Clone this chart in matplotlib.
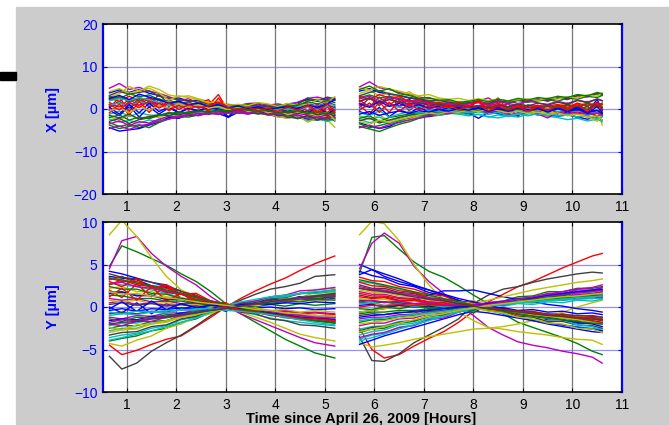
import matplotlib
matplotlib.use("Agg")
import matplotlib.pyplot as plt
from matplotlib.patches import Rectangle

plt.rcParams['font.family'] = ['Liberation Sans', 'DejaVu Sans']

# time knots (hours since April 26, 2009)
t_x1 = [0.65, 0.85, 1.05, 1.25, 1.45, 1.65, 1.85, 2.05, 2.25, 2.45, 2.65, 2.85,
        3.05, 3.25, 3.45, 3.65, 3.85, 4.05, 4.25, 4.45, 4.65, 4.85, 5.05, 5.2]
t_x2 = [5.7, 5.9, 6.1, 6.3, 6.5, 6.7, 6.9, 7.1, 7.3, 7.5, 7.7, 7.9, 8.1,
        8.3, 8.5, 8.7, 8.9, 9.1, 9.3, 9.5, 9.7, 9.9, 10.1, 10.3, 10.5, 10.6]
t_y1 = [0.65, 0.9, 1.2, 1.5, 1.8, 2.1, 2.4, 2.7, 3.0, 3.3, 3.6, 3.9, 4.2, 4.5, 4.8, 5.2]
t_y2 = [5.7, 5.95, 6.2, 6.5, 6.8, 7.1, 7.4, 7.7, 8.0, 8.3, 8.6, 8.9, 9.2, 9.5, 9.8,
        10.1, 10.4, 10.6]

# X offsets [um], first run
x_run1 = [
    [3.8, 4.5, 3.9, 4.6, 3.7, 3.2, 2.4, 2.6, 1.9, 2.1, 1.2, 1.6, 0.8, 0.9, 1.1, 0.6, 1.0, 0.7, 1.2, 1.5, 2.2, 1.8, 2.4, 2.1],
    [-3.2, -4.1, -3.6, -4.4, -3.5, -2.6, -1.9, -1.5, -1.6, -1.0, -1.2, -0.6, -0.9, -0.4, -0.8, -0.5, -1.1, -1.4, -1.0, -1.6, -1.9, -2.3, -1.8, -2.0],
    [1.5, 0.4, 2.3, 0.8, 2.6, 0.5, 1.8, 0.3, 1.4, 0.2, 0.9, 3.4, -0.4, 0.5, 0.2, -0.3, 0.4, -0.6, 0.1, 0.9, -0.5, 1.2, -0.8, 0.6],
    [-1.2, -0.5, -1.8, -0.9, -1.4, -1.6, -0.8, -1.1, -0.6, -0.9, -0.3, -0.7, 0.2, -0.4, -0.1, 0.3, -0.5, -0.2, -0.9, -0.6, -1.4, -1.1, -1.6, -2.2],
    [4.9, 6.0, 4.6, 5.1, 4.2, 3.7, 2.9, 2.0, 2.4, 1.3, 1.6, 0.9, 1.1, 0.8, 1.3, 1.4, 0.9, 1.2, 0.8, 1.6, 2.5, 2.8, 2.2, 2.6],
    [2.8, 3.6, 5.3, 4.2, 5.4, 4.6, 3.3, 2.9, 3.1, 2.4, 1.8, 1.2, 0.5, 0.7, 0.3, 0.9, 0.2, -0.4, 0.3, -0.8, -1.5, -1.2, -2.6, -4.3],
    [0.6, 1.8, 0.2, 2.2, 0.9, 3.4, 1.2, 1.9, 0.4, 1.1, -0.2, 0.5, -1.8, 0.6, -0.3, 0.4, -0.9, 0.2, -0.5, 0.3, 1.4, 0.2, 1.0, 0.3],
    [-4.4, -5.2, -4.9, -4.6, -3.8, -3.1, -2.0, -2.2, -1.4, -1.5, -0.9, -1.1, -1.9, -0.8, -1.2, -0.7, -1.3, -1.8, -2.1, -1.7, -2.4, -2.6, -2.0, -2.8],
    [2.2, 2.9, 1.7, 2.5, 1.9, 2.4, 1.6, 1.2, 1.5, 0.9, 0.6, 1.0, 0.4, 0.7, 1.2, 0.9, 0.5, 0.9, 1.1, 0.6, 1.9, 2.3, 1.7, 2.0],
    [0.2, 2.8, -0.6, 3.1, 0.4, 2.2, -0.3, 1.6, 0.2, 1.3, 2.2, -0.4, 0.6, 0.1, -0.3, 0.5, -0.2, -0.7, 0.3, -0.9, 0.8, -1.6, 0.6, -0.8],
    [-2.4, -3.1, -2.7, -3.3, -2.6, -2.9, -1.6, -1.9, -1.3, -1.1, -0.7, -1.0, -0.6, -0.9, -0.5, -1.1, -0.8, -1.3, -1.6, -1.9, -2.7, -2.4, -2.9, -2.5],
    [1.1, 0.6, 1.4, 0.9, 1.7, 1.2, 0.8, 1.3, 0.5, 0.8, 0.4, 0.2, 0.6, 0.1, 0.5, 0.8, 0.3, 0.6, 0.2, 0.9, 1.3, 0.7, 1.6, 1.0],
    [-1.9, -2.6, -1.4, -2.3, -1.6, -2.0, -1.1, -1.5, -0.8, -1.2, -0.5, -0.9, -0.2, -0.7, -0.3, -0.9, -1.2, -1.8, -2.2, -1.5, -3.1, -2.2, -1.8, -2.4],
    [3.2, 4.1, 3.5, 3.9, 4.3, 3.0, 2.6, 2.2, 1.8, 1.9, 1.1, 1.4, 0.7, 1.0, 0.6, 1.2, 0.4, 0.8, 0.3, 1.1, 2.6, 1.9, 2.8, 2.4],
    [-0.3, -1.6, 0.8, -1.9, 0.5, -1.2, 0.3, -0.9, 0.1, -0.6, 0.4, -0.2, -2.0, 0.3, -0.4, 0.2, -0.6, 0.1, -0.8, 0.4, -1.2, 0.6, -1.5, 0.2],
    [-3.8, -4.6, -4.1, -3.7, -4.4, -3.2, -2.3, -1.8, -1.9, -1.4, -1.0, -1.2, -0.8, -1.0, -0.6, -1.0, -1.4, -1.2, -1.9, -2.2, -1.6, -2.1, -2.6, -2.3],
    [2.6, 1.8, 3.0, 1.9, 2.7, 1.4, 2.2, 1.0, 1.6, 0.6, 1.4, 0.4, 0.9, 0.2, 0.4, -0.1, 0.3, -0.4, 0.2, -0.6, 0.5, -0.9, 0.4, -1.2],
    [0.9, 1.4, 0.6, 1.8, 1.1, 0.7, 0.9, 0.4, 0.8, 0.3, 0.6, 0.1, 0.4, -0.2, 0.3, 0.0, -0.3, 0.2, -0.1, 0.5, 0.9, 0.6, 1.2, 0.8],
    [-4.6, -4.0, -4.8, -3.9, -3.6, -2.9, -2.4, -1.7, -1.2, -1.6, -0.9, -1.3, -0.5, -0.9, -1.1, -0.6, -1.4, -1.0, -1.7, -1.4, -2.2, -1.9, -1.4, -2.0],
    [4.1, 4.8, 3.7, 4.4, 4.9, 3.8, 2.1, 3.1, 2.7, 2.2, 1.4, 1.9, 0.9, 1.1, 0.8, 1.5, 1.2, 0.6, 1.3, 0.9, 1.1, 2.2, 1.6, 2.9],
    [-2.9, -2.2, -3.4, -2.5, -2.1, -1.5, -0.9, -1.4, -0.7, -0.3, -0.8, -0.4, -0.9, -0.3, -0.7, -1.2, -0.6, -1.6, -1.2, -2.3, -1.5, -2.6, -2.0, -1.4],
    [0.4, -1.2, 1.1, -0.9, 1.4, -0.6, 0.5, -0.8, 0.2, -0.4, 0.6, 0.0, -0.6, 0.3, -0.8, -0.2, -1.1, -0.5, -0.9, -0.1, -0.8, 0.4, -1.0, -0.3],
    [3.0, 2.4, 3.6, 2.9, 3.3, 2.2, 1.6, 1.8, 1.2, 1.4, 0.8, 0.9, 0.5, 0.6, 0.2, 0.5, 0.1, 0.3, 0.6, 0.9, 1.7, 1.2, 2.0, 1.5],
    [-0.9, 1.2, -1.4, 1.8, -0.8, 1.5, -0.4, 0.9, -0.3, 1.2, -0.6, 2.6, -0.5, 0.4, -0.7, 0.1, -1.0, -0.2, -1.3, 0.2, -1.6, 0.5, -1.8, -0.4],
    [1.9, 2.5, 2.0, 2.7, 2.1, 1.6, 1.8, 1.1, 1.3, 0.8, 0.9, 0.5, 0.6, 0.3, 0.5, 0.1, 0.2, -0.3, 0.0, -0.4, 0.4, -0.2, 0.6, 0.1],
    [-3.5, -2.8, -3.9, -3.0, -3.3, -2.4, -1.7, -2.0, -1.4, -1.0, -1.3, -0.7, -1.0, -0.5, -0.9, -0.4, -0.8, -1.3, -0.9, -1.5, -1.2, -1.8, -2.3, -1.6],
    [-0.5, 0.3, -0.9, 0.6, -0.3, 0.8, 0.2, 1.3, 0.4, 1.0, 0.2, 0.6, -0.2, 0.4, -0.6, 0.0, -0.9, -0.4, -1.3, -0.8, -1.0, -1.6, -0.7, -2.6],
    [-1.5, -2.1, -1.2, -2.4, -1.8, -1.3, -1.6, -0.8, -1.1, -0.5, -0.7, -0.2, -0.5, 0.0, -0.3, 0.2, -0.4, -0.8, -0.6, -1.1, -0.5, -1.4, -0.9, -1.6],
    [2.5, 3.2, 2.2, 3.5, 2.8, 2.2, 1.3, 1.8, 1.0, 1.4, 0.6, 1.0, 0.3, 0.7, 0.1, 0.5, -0.1, 0.3, 0.5, 0.1, 0.9, 0.4, 1.2, 2.2],
    [-2.0, -1.4, -2.6, -1.9, -2.3, -1.5, -1.1, -0.7, -1.0, -0.5, -0.8, -0.3, -0.5, 0.1, -0.2, -0.6, -0.3, -1.0, -0.7, -0.4, -1.1, -0.6, -1.2, -0.9],
    [1.0, -0.2, 1.6, 0.3, 1.9, 0.2, 1.4, -0.1, 1.0, 0.3, 0.7, 1.6, 0.3, -0.2, 0.4, -0.4, 0.2, -0.6, 0.5, -0.3, 0.9, -0.6, 1.2, -0.5],
]

# X offsets [um], second run
x_run2 = [
    [4.2, 4.8, 3.9, 3.5, 3.1, 2.6, 2.2, 1.7, 1.4, 1.1, 0.9, 0.4, 0.6, 0.2, -0.3, 0.1, -0.4, -0.1, 0.3, -0.2, 0.2, -0.5, 0.1, -0.4, 2.2, -0.3],
    [-4.1, -4.7, -5.3, -4.4, -3.6, -3.0, -2.2, -1.7, -1.5, -1.1, -0.9, -1.2, -0.6, -0.9, -0.4, -0.7, -0.5, -0.8, -0.3, -0.9, -1.1, -0.7, -1.3, -1.0, -1.6, -1.2],
    [2.1, 0.5, 2.8, 0.9, 2.6, 0.7, 2.1, 0.8, 1.2, 0.3, 0.9, -0.2, 0.6, 1.1, 2.6, -0.4, 0.8, 0.2, 0.9, -0.3, 0.6, 1.4, -0.2, 1.8, 0.3, 1.1],
    [-1.6, -2.4, -1.9, -2.8, -2.2, -1.5, -1.1, -1.3, -0.8, -0.6, -0.9, -1.4, -1.2, -1.8, -2.1, -1.6, -1.9, -1.2, -1.0, -1.5, -1.8, -1.4, -2.0, -1.6, -2.3, -1.9],
    [5.2, 6.4, 5.0, 4.6, 3.9, 3.4, 2.8, 2.5, 2.1, 1.9, 1.5, 1.3, 1.9, 2.6, 1.4, 1.9, 1.3, 1.7, 2.4, 1.8, 2.6, 2.2, 3.1, 2.8, 3.6, 3.2],
    [3.6, 4.4, 3.1, 3.8, 2.9, 4.1, 2.6, 2.1, 2.4, 1.6, 1.8, 1.2, 1.5, 0.9, 1.3, 0.6, 1.2, 0.8, 0.4, 1.0, 0.6, 1.3, 0.8, 1.5, 0.9, -3.8],
    [0.4, 2.6, 0.8, 3.1, 0.6, 2.4, 0.2, 1.7, -0.1, 1.4, 0.3, 0.8, -0.4, 0.6, -0.9, 0.4, -1.7, 0.5, -0.6, 0.9, 0.2, 1.1, -0.4, 0.7, -1.1, 0.2],
    [-3.2, -4.0, -4.6, -4.1, -3.0, -2.3, -1.6, -1.8, -1.2, -0.9, -0.6, -0.9, -2.2, -0.8, -1.1, -1.6, -1.3, -0.9, -1.4, -1.1, -1.6, -1.3, -1.9, -2.4, -1.8, -2.6],
    [2.7, 3.3, 2.6, 3.0, 2.4, 2.0, 1.6, 1.8, 1.3, 1.5, 1.0, 1.3, 1.6, 1.2, 1.8, 1.4, 2.0, 1.6, 1.9, 2.2, 1.8, 2.6, 2.3, 3.0, 2.7, 3.2],
    [0.9, -1.2, 1.6, -0.8, 2.1, -0.4, 1.4, -0.2, 0.9, 0.3, 1.2, -0.3, 2.4, -0.5, 1.1, 0.2, 0.8, -0.6, 0.7, -0.2, 0.9, 0.1, 1.3, -0.4, 0.9, 0.5],
    [-2.5, -3.2, -2.8, -3.4, -2.9, -2.4, -1.8, -1.3, -1.5, -1.0, -1.2, -1.6, -1.3, -1.9, -1.4, -1.8, -1.2, -1.6, -1.1, -1.7, -2.0, -2.5, -2.2, -2.8, -2.4, -3.0],
    [1.4, 0.8, 1.9, 1.2, 0.6, 1.4, 0.9, 0.5, 1.2, 0.7, 0.9, 0.4, 0.8, 1.4, 0.6, 1.2, -0.6, 1.0, 0.5, 0.8, -1.2, 0.9, 0.6, 1.3, 0.8, 1.1],
    [-1.8, -2.5, -1.4, -2.8, -1.9, -2.6, -1.5, -1.0, -0.6, -0.8, -0.3, -0.6, -0.2, -0.7, 0.0, -0.5, -0.2, -0.8, -0.4, -0.9, -0.6, -1.3, -0.9, -1.8, -2.9, -1.5],
    [3.1, 3.9, 4.3, 3.6, 3.2, 2.7, 2.4, 1.9, 2.0, 1.6, 1.3, 1.5, 1.8, 1.3, 2.0, 1.6, 2.2, 1.8, 2.3, 2.0, 2.6, 2.4, 3.2, 3.0, 3.6, 3.4],
    [-0.6, -1.4, 0.4, -1.8, -0.2, -1.0, 0.3, -0.6, 0.1, -0.4, 0.5, -0.2, 0.4, -0.6, 0.6, -1.2, 0.3, -0.4, 0.8, -0.5, 0.6, -1.1, 0.4, -0.8, 1.6, -0.3],
    [-3.5, -4.4, -3.9, -3.3, -2.7, -2.0, -1.3, -1.5, -0.9, -1.1, -0.5, -0.8, -0.3, -0.6, -0.2, -0.5, 0.1, -0.4, 0.3, -0.1, 0.4, 0.0, 0.5, 0.2, 0.7, 0.4],
    [1.8, 2.6, 1.2, 2.3, 1.5, 2.0, 1.1, 1.6, 0.8, 1.2, 0.5, 0.9, 0.2, 0.6, 0.0, 0.4, -0.3, 0.2, -0.6, 0.0, -0.8, -0.4, -1.1, -0.7, -1.6, -1.2],
    [0.1, 0.7, -0.3, 0.9, 0.4, 0.2, 0.6, 0.1, 0.4, -0.1, 0.3, 0.0, -0.4, 0.2, -0.2, 0.3, -0.5, 0.1, -0.3, 0.2, -0.6, -0.2, -0.8, -0.4, -1.0, -0.6],
    [-4.4, -3.8, -4.5, -3.7, -3.2, -2.6, -2.1, -1.6, -1.2, -1.0, -0.7, -0.9, -0.4, -0.8, -0.5, -1.4, -0.9, -0.6, -1.2, -2.1, -0.8, -1.1, -0.7, -1.3, -0.9, -1.5],
    [5.0, 4.4, 5.3, 4.7, 4.2, 3.6, 3.1, 3.4, 2.6, 2.3, 2.5, 2.0, 2.4, 2.0, 2.3, 1.9, 2.2, 2.4, 2.0, 2.6, 2.3, 2.9, 2.6, 3.3, 3.0, 3.8],
    [-2.8, -2.1, -3.3, -2.6, -2.0, -1.5, -1.0, -1.3, -0.7, -0.4, -0.8, -0.3, 0.2, -0.4, 0.5, -0.2, 0.3, -0.5, 0.1, -0.3, 0.4, -0.6, -0.2, -0.9, -0.4, -1.3],
    [1.2, 0.4, 1.8, 0.6, 1.3, 0.4, 1.0, 0.2, 0.6, -0.1, 0.4, -0.3, 0.3, -0.4, 0.5, -0.6, 0.2, -0.5, 0.4, -0.8, 0.3, -0.6, 0.5, -1.1, 0.6, -0.8],
    [-2.2, -1.6, -2.9, -2.0, -1.6, -1.2, -0.8, -0.5, -0.7, -0.3, -0.5, -0.1, -0.4, 0.2, -0.2, 0.3, -0.1, 0.5, 0.1, 0.6, 0.3, 0.9, 0.6, 1.2, 0.8, 1.4],
    [3.0, 2.2, 3.4, 2.6, 2.9, 1.8, 2.2, 1.2, 1.6, 0.9, 1.3, 0.6, 2.0, 0.7, 1.3, 0.5, 1.0, 0.3, 0.8, 0.6, 1.1, 0.4, 1.4, 0.7, 1.5, 1.0],
    [-0.8, -1.6, -0.4, -1.9, -1.2, -0.6, -1.0, -0.4, -0.7, -0.2, -0.5, -0.9, -0.6, -1.3, -0.8, -1.6, -1.1, -0.7, -1.4, -1.0, -1.6, -1.2, -1.9, -1.5, -2.2, -1.8],
    [2.4, 3.0, 2.0, 2.7, 2.2, 1.6, 1.9, 1.3, 1.0, 1.3, 0.8, 1.2, 1.5, 1.0, 1.7, 1.3, 0.9, 2.0, 1.4, 1.1, 1.8, 1.3, 2.1, 1.6, 2.4, 2.0],
    [-3.0, -3.6, -2.6, -3.2, -2.5, -2.0, -1.4, -1.0, -1.2, -0.6, -0.8, -0.3, -0.6, -0.1, -0.4, -0.9, -0.5, -1.1, -0.7, -1.3, -0.9, -1.6, -1.2, -2.0, -1.6, -2.6],
    [1.9, 2.6, 1.5, 2.2, 1.7, 1.2, 1.5, 0.9, 1.1, 0.6, 0.9, 0.4, 0.8, 0.3, 0.9, 0.5, 1.2, 0.7, 1.4, 0.9, 1.6, 1.1, 2.0, 1.5, 2.3, 1.9],
    [-1.2, -0.6, -1.5, -0.9, -0.5, -1.0, -0.4, -0.7, -0.2, -0.5, 0.1, -0.3, 0.2, -0.5, 0.0, -0.3, 0.3, -0.2, 0.1, -0.6, 0.0, -0.4, -0.1, -0.7, -0.3, -1.0],
    [4.6, 5.4, 4.2, 4.8, 3.6, 3.2, 2.5, 2.7, 2.0, 2.2, 1.6, 1.8, 2.2, 1.7, 2.3, 1.9, 2.5, 2.1, 2.7, 2.4, 3.0, 2.7, 3.4, 3.1, 3.9, 3.6],
    [-0.3, 1.4, -0.8, 1.6, -0.5, 1.1, -0.2, 0.8, 0.1, 0.9, -0.2, 0.6, 1.8, -0.4, 0.7, -0.3, 0.5, -0.5, 0.6, -0.4, 0.8, -0.3, 1.0, -0.6, 1.2, -0.2],
]

# Y offsets [um], first run
y_run1 = [
    [4.2, 3.9, 3.4, 2.9, 2.4, 1.9, 1.3, 0.7, 0.1, -0.3, -0.6, -0.9, -1.2, -1.4, -1.6, -1.8],
    [4.8, 7.2, 6.5, 5.7, 4.9, 3.9, 3.0, 1.8, 0.4, -0.8, -1.8, -2.8, -3.8, -4.6, -5.4, -6.0],
    [-4.5, -5.6, -5.1, -4.4, -3.8, -3.4, -2.3, -1.2, 0.0, 1.0, 1.9, 2.7, 3.4, 4.3, 5.1, 6.0],
    [2.8, 2.6, 2.4, 2.0, 1.6, 1.1, 0.7, 0.3, -0.1, -0.5, -0.9, -1.3, -1.6, -1.8, -2.0, -2.2],
    [4.5, 7.8, 8.3, 6.3, 4.8, 3.6, 2.6, 1.2, 0.1, -0.8, -1.5, -2.2, -2.9, -3.6, -4.2, -4.6],
    [8.5, 10.2, 8.3, 5.8, 3.6, 2.0, 1.2, 0.5, 0.0, -0.6, -1.2, -1.8, -2.5, -3.2, -3.6, -4.0],
    [-5.8, -7.3, -6.6, -5.2, -4.2, -3.3, -2.2, -1.0, 0.0, 0.8, 1.5, 2.1, 2.4, 2.8, 3.6, 3.8],
    [3.6, 3.4, 3.2, 2.5, 2.3, 1.5, 1.2, 0.4, 0.2, -0.3, -0.4, -0.8, -0.7, -1.1, -1.0, -1.2],
    [-4.0, -3.7, -3.4, -2.8, -2.5, -1.8, -1.4, -0.6, -0.3, 0.4, 0.5, 0.9, 0.9, 1.2, 1.2, 1.4],
    [3.2, 3.6, 2.8, 2.5, 1.9, 1.6, 0.8, 0.6, 0.3, -0.2, -0.2, -0.6, -0.5, -0.8, -0.7, -0.9],
    [-2.2, -1.9, -1.9, -1.4, -1.3, -0.8, -0.7, -0.2, -0.2, -0.2, -0.7, -0.8, -1.3, -1.3, -1.7, -1.8],
    [-1.2, -1.4, -1.0, -1.1, -0.7, -0.7, -0.4, -0.4, 0.1, 0.1, 0.5, 0.5, 0.9, 0.9, 1.2, 1.3],
    [-4.3, -4.6, -3.9, -3.4, -2.5, -2.0, -1.2, -0.8, 0.1, 0.2, 0.7, 0.8, 1.4, 1.5, 2.0, 2.2],
    [3.9, 3.5, 3.3, 2.9, 2.6, 1.8, 1.4, 0.5, 0.2, -0.6, -0.8, -1.4, -1.6, -2.1, -2.2, -2.5],
    [0.0, -0.7, 0.5, -0.8, 0.4, -0.3, 0.2, -0.1, 0.0, 0.1, -0.1, 0.0, -0.2, -0.1, -0.3, -0.2],
    [-2.5, -2.2, -2.2, -1.7, -1.6, -1.0, -0.9, -0.3, -0.3, 0.3, 0.4, 0.8, 0.8, 1.2, 1.2, 1.4],
    [2.0, 1.1, 2.7, 1.2, 2.5, 1.0, 0.9, 0.4, 0.0, -0.3, -0.4, -0.6, -0.8, -0.9, -1.0, -1.1],
    [-3.6, -3.3, -3.1, -2.5, -2.2, -1.5, -1.2, -0.5, -0.2, 0.5, 0.6, 1.1, 1.2, 1.6, 1.6, 1.8],
    [1.0, 0.8, 1.0, 0.6, 0.7, 0.4, 0.4, 0.1, 0.2, -0.2, -0.2, -0.5, -0.4, -0.7, -0.6, -0.8],
    [2.2, 2.4, 1.8, 1.8, 1.2, 1.1, 0.6, 0.5, 0.3, -0.1, 0.4, 0.5, 1.0, 1.1, 1.7, 2.0],
    [-0.8, -0.6, -0.8, -0.5, -0.6, -0.3, -0.4, -0.1, -0.2, 0.4, 0.5, 1.0, 1.1, 1.6, 1.7, 2.0],
    [-1.6, -1.4, -1.5, -1.1, -1.1, -0.7, -0.7, -0.2, -0.4, 0.3, 0.3, 0.6, 0.5, 0.9, 0.8, 1.0],
    [1.4, 1.3, 1.0, 1.0, 0.7, 0.7, 0.3, 0.3, -0.2, 0.2, 0.0, 0.3, 0.1, 0.4, 0.2, 0.4],
    [2.6, 3.2, 2.6, 2.4, 1.7, 1.5, 0.9, 0.6, 0.3, -0.3, -0.3, -0.8, -0.8, -1.3, -1.3, -1.6],
    [-2.8, -2.5, -2.5, -1.9, -1.7, -1.1, -0.9, -0.3, -0.2, 0.5, 0.7, 1.1, 1.2, 1.6, 1.6, 1.9],
    [0.5, 0.7, 0.3, 0.5, 0.2, 0.3, 0.1, 0.2, -0.3, 0.3, 0.3, 0.7, 0.6, 1.0, 0.9, 1.2],
    [-3.0, -2.7, -2.6, -2.0, -1.8, -1.2, -1.0, -0.4, -0.4, 0.2, 0.2, 0.5, 0.5, 0.8, 0.7, 0.9],
    [1.8, 1.7, 1.4, 1.3, 0.9, 0.9, 0.4, 0.4, 0.4, -0.4, -0.4, -0.8, -0.8, -1.2, -1.2, -1.5],
    [-0.4, -0.2, -0.5, -0.2, -0.3, -0.1, -0.2, 0.0, -0.5, 0.3, 0.4, 0.8, 0.8, 1.2, 1.3, 1.6],
    [2.4, 2.1, 2.1, 1.6, 1.5, 1.0, 0.8, 0.3, 0.2, -0.4, -0.5, -0.9, -1.0, -1.4, -1.4, -1.7],
    [3.4, 3.0, 3.0, 2.4, 2.2, 1.6, 1.3, 0.5, 0.5, -0.4, -0.5, -0.9, -0.9, -1.3, -1.3, -1.5],
    [-1.0, -0.8, -0.9, -0.6, -0.7, -0.3, -0.4, 0.0, 0.3, -0.3, -0.3, -0.7, -0.7, -1.1, -1.0, -1.3],
    [-2.0, -2.2, -1.7, -1.7, -1.2, -1.1, -0.6, -0.5, -0.1, 0.5, 0.7, 1.2, 1.4, 1.9, 2.0, 2.3],
    [0.8, 0.6, 0.8, 0.4, 0.5, 0.2, 0.3, 0.0, 0.4, -0.2, -0.1, -0.4, -0.3, -0.6, -0.4, -0.6],
    [-3.3, -3.0, -2.9, -2.3, -2.1, -1.4, -1.1, -0.4, -0.1, 0.4, 0.4, 0.8, 0.8, 1.1, 1.0, 1.2],
    [1.6, 1.8, 1.3, 1.4, 0.9, 1.0, 0.5, 0.6, 0.2, -0.2, -0.4, -0.7, -0.9, -1.2, -1.3, -1.5],
    [-1.4, -1.7, -1.2, -1.3, -0.9, -0.9, -0.5, -0.5, 0.2, 0.1, 0.4, 0.4, 0.7, 0.6, 0.9, 0.8],
    [3.0, 2.4, 3.3, 2.2, 2.6, 1.5, 1.6, 0.7, 0.4, -0.5, -0.6, -1.0, -1.2, -1.5, -1.6, -1.8],
    [-3.9, -3.6, -3.2, -2.8, -2.3, -1.8, -1.3, -0.6, 0.2, 0.6, 0.9, 1.2, 1.4, 1.6, 1.8, 2.0],
    [2.7, 2.9, 2.4, 2.2, 1.8, 1.5, 1.1, 0.7, 0.3, 0.0, -0.3, -0.5, -0.8, -1.0, -1.2, -1.3],
    [-2.4, -2.7, -2.1, -2.0, -1.6, -1.2, -0.9, -0.5, -0.3, 0.1, 0.4, 0.6, 0.9, 1.1, 1.4, 1.7],
    [0.3, 0.5, 0.2, 0.4, 0.1, 0.3, 0.0, 0.2, -0.1, -0.3, -0.5, -0.8, -1.0, -1.3, -1.6, -1.9],
    [-0.2, 0.6, -0.5, 0.7, -0.3, 0.4, -0.1, 0.2, 0.1, 0.2, 0.4, 0.3, 0.5, 0.4, 0.6, 0.5],
    [3.4, 3.2, 2.8, 2.4, 2.0, 1.6, 1.1, 0.7, 0.3, -0.1, -0.5, -0.9, -1.1, -1.4, -1.6, -1.9],
    [1.2, 2.2, 0.8, 2.4, 0.7, 1.6, 0.5, 0.6, 0.0, -0.4, -0.6, -0.9, -1.1, -1.3, -1.4, -1.6],
    [-0.6, -0.8, -0.5, -0.6, -0.4, -0.4, -0.2, -0.2, -0.4, -0.5, -0.7, -0.9, -1.2, -1.5, -1.8, -2.1],
    [-1.8, -1.5, -1.6, -1.3, -1.1, -0.9, -0.6, -0.4, -0.1, 0.1, 0.3, 0.6, 0.8, 1.1, 1.3, 1.5],
    [1.8, 1.5, 1.6, 1.3, 1.1, 0.9, 0.6, 0.4, 0.2, 0.0, -0.3, -0.4, -0.7, -0.8, -1.0, -1.1],
    [-2.0, -1.8, -1.7, -1.4, -1.2, -0.9, -0.7, -0.4, -0.2, 0.1, 0.4, 0.6, 0.9, 1.1, 1.3, 1.6],
]

# Y offsets [um], second run
y_run2 = [
    [5.0, 4.4, 3.9, 3.3, 2.6, 2.0, 1.4, 0.8, 0.2, -0.3, -0.8, -1.2, -1.6, -2.0, -2.3, -2.6, -2.9, -3.0],
    [4.0, 8.2, 8.4, 6.8, 5.3, 4.2, 3.5, 2.5, 1.4, 0.4, -0.8, -1.8, -2.4, -3.0, -3.6, -4.3, -5.2, -5.6],
    [-2.5, -5.0, -6.0, -5.6, -4.6, -3.7, -2.9, -1.8, -0.5, 0.6, 1.5, 2.4, 3.0, 3.8, 4.6, 5.3, 6.0, 6.3],
    [3.0, 2.8, 2.5, 2.1, 1.7, 1.3, 0.9, 0.5, 0.0, -0.4, -0.8, -1.2, -1.5, -1.8, -2.1, -2.3, -2.5, -2.6],
    [4.5, 7.5, 8.7, 7.5, 4.8, 3.0, 1.6, 0.2, -1.0, -2.4, -3.3, -4.1, -4.5, -4.8, -5.2, -5.5, -5.9, -6.6],
    [8.5, 10.1, 9.8, 7.8, 5.0, 2.6, 0.8, -0.6, -1.6, -2.4, -2.6, -2.9, -3.1, -3.3, -3.6, -3.8, -3.9, -4.4],
    [-3.5, -6.3, -6.4, -5.5, -4.2, -3.3, -2.4, -1.4, 0.4, 1.4, 2.1, 2.4, 2.9, 3.3, 3.6, 3.9, 4.1, 4.0],
    [4.2, 3.7, 3.4, 2.7, 2.4, 1.7, 1.4, 0.7, 0.5, -0.2, -0.4, -0.9, -1.0, -1.5, -1.5, -1.9, -1.9, -2.0],
    [-3.0, -2.6, -2.5, -1.9, -1.7, -1.1, -0.9, -0.3, -0.2, 0.5, 0.7, 1.2, 1.3, 1.8, 1.8, 2.2, 2.2, 2.4],
    [3.5, 3.1, 3.0, 2.4, 2.1, 1.5, 1.3, 0.6, 0.5, -0.1, -0.1, -0.5, -0.5, -0.9, -0.8, -1.1, -1.0, -1.2],
    [-3.8, -3.3, -3.1, -2.4, -2.1, -1.4, -1.1, -0.4, -0.4, 0.4, 0.5, 0.9, 0.9, 1.2, 1.1, 1.4, 1.3, 1.5],
    [-1.4, -1.2, -1.2, -0.9, -0.9, -0.5, -0.5, -0.1, -0.3, 0.3, 0.3, 0.7, 0.7, 1.1, 1.1, 1.5, 1.4, 1.6],
    [-4.2, -4.7, -4.5, -4.2, -3.8, -3.5, -3.2, -2.9, -2.6, -2.5, -2.3, -2.0, -1.6, -1.2, -0.6, 0.0, 0.5, 0.8],
    [2.6, 2.2, 2.2, 1.7, 1.6, 1.0, 0.9, 0.4, 0.5, -0.4, -0.6, -1.1, -1.2, -1.7, -1.7, -2.1, -2.2, -2.5],
    [-0.6, -0.4, -0.2, 0.2, 0.8, 1.4, 1.9, 1.9, 2.0, 1.6, 1.2, 0.9, 0.6, 0.3, 0.1, -0.2, -0.4, -0.6],
    [-1.8, -1.5, -1.5, -1.1, -1.0, -0.6, -0.6, -0.1, -0.4, 0.4, 0.5, 0.9, 0.9, 1.3, 1.3, 1.7, 1.6, 1.8],
    [2.2, 1.9, 1.9, 1.5, 1.4, 0.9, 0.8, 0.3, 0.6, -0.3, -0.4, -0.8, -0.8, -1.2, -1.2, -1.5, -1.4, -1.6],
    [-2.6, -2.3, -2.2, -1.7, -1.6, -1.0, -0.9, -0.3, 0.3, -0.3, -0.3, -0.8, -0.9, -1.4, -1.5, -2.1, -2.3, -2.8],
    [1.8, 1.5, 1.5, 1.1, 1.0, 0.6, 0.5, 0.1, -0.3, 0.3, 0.3, 0.7, 0.7, 1.1, 1.1, 1.5, 1.5, 1.8],
    [-0.6, -0.4, -0.2, 0.0, 0.2, 0.4, 0.6, 0.6, 0.4, 0.8, 1.2, 1.6, 2.0, 2.3, 2.6, 2.9, 3.1, 3.3],
    [1.4, 1.1, 1.2, 0.8, 0.8, 0.4, 0.4, 0.0, 0.3, -0.4, -0.4, -0.8, -0.8, -1.2, -1.2, -1.6, -1.6, -1.8],
    [-4.4, -3.9, -3.4, -2.9, -2.4, -1.9, -1.4, -0.9, -0.5, -0.7, -1.0, -1.3, -1.6, -1.9, -2.1, -2.4, -2.6, -2.8],
    [0.6, 0.4, 0.6, 0.3, 0.4, 0.2, 0.3, 0.0, -0.5, 0.3, 0.3, 0.7, 0.8, 1.2, 1.3, 1.8, 1.9, 2.3],
    [2.9, 2.5, 2.4, 1.9, 1.7, 1.1, 0.9, 0.3, 0.7, -0.4, -0.5, -0.9, -0.9, -1.3, -1.2, -1.5, -1.4, -1.6],
    [-3.3, -2.9, -2.7, -2.1, -1.9, -1.3, -1.1, -0.4, -0.6, 0.3, 0.3, 0.7, 0.7, 1.1, 1.0, 1.3, 1.2, 1.4],
    [-2.2, -1.9, -1.9, -1.4, -1.3, -0.8, -0.7, -0.2, 0.2, 0.4, 0.5, 1.0, 1.1, 1.6, 1.6, 2.0, 2.0, 2.3],
    [1.0, 0.8, 0.9, 0.6, 0.7, 0.4, 0.4, 0.1, 0.8, -0.3, -0.3, -0.7, -0.7, -1.0, -0.9, -1.2, -1.2, -1.4],
    [-1.0, -0.8, -0.9, -0.6, -0.7, -0.3, -0.4, 0.0, -0.7, 0.3, 0.2, 0.6, 0.5, 0.9, 0.8, 1.1, 1.0, 1.2],
    [0.2, 0.3, 0.0, 0.2, 0.0, 0.1, -0.1, 0.1, 0.1, -0.2, -0.1, -0.4, -0.3, -0.6, -0.5, -0.8, -0.7, -0.9],
    [-0.2, -0.3, 0.0, -0.2, 0.1, -0.1, 0.1, -0.1, 0.0, -0.3, -0.3, -0.7, -0.7, -1.1, -1.1, -1.4, -1.3, -1.5],
    [1.2, 1.0, 1.1, 0.7, 0.8, 0.4, 0.5, 0.1, 0.2, -0.3, -0.3, -0.7, -0.6, -1.0, -0.9, -1.3, -1.2, -1.4],
    [0.4, 0.5, 0.2, 0.4, 0.1, 0.3, 0.0, 0.2, -0.2, 0.2, 0.1, 0.4, 0.3, 0.6, 0.5, 0.8, 0.7, 0.9],
    [-3.6, -3.2, -3.0, -2.4, -2.2, -1.5, -1.3, -0.6, -0.1, 0.2, 0.2, 0.6, 0.6, 0.9, 0.8, 1.1, 1.0, 1.1],
    [2.0, 1.7, 1.7, 1.3, 1.2, 0.8, 0.7, 0.2, -0.1, -0.5, -0.7, -1.2, -1.4, -1.9, -2.0, -2.5, -2.6, -3.0],
    [-2.8, -2.4, -2.3, -1.8, -1.6, -1.1, -0.9, -0.3, 0.1, 0.4, 0.5, 1.0, 1.0, 1.4, 1.4, 1.8, 1.8, 2.0],
    [3.8, 4.4, 3.6, 3.0, 2.5, 2.0, 1.5, 1.0, 0.6, 0.2, -0.2, -0.5, -0.9, -1.2, -1.5, -1.8, -2.0, -2.3],
    [-0.8, -0.6, -0.6, -0.4, -0.4, -0.2, -0.2, 0.0, 0.2, 0.3, 0.5, 0.6, 0.8, 0.9, 1.1, 1.2, 1.3, 1.4],
    [1.6, 1.3, 1.3, 1.0, 0.9, 0.6, 0.5, 0.2, 0.1, -0.2, -0.4, -0.7, -0.9, -1.1, -1.3, -1.5, -1.7, -1.9],
    [-4.0, -3.6, -3.2, -2.6, -2.1, -1.6, -1.1, -0.6, -0.2, 0.1, 0.3, 0.5, 0.6, 0.7, 0.8, 0.9, 1.0, 1.0],
    [2.4, 2.1, 2.0, 1.6, 1.4, 1.0, 0.8, 0.4, 0.3, 0.5, 0.7, 0.9, 1.1, 1.3, 1.5, 1.7, 1.8, 2.0],
    [-2.0, -1.8, -1.6, -1.3, -1.1, -0.8, -0.6, -0.3, -0.1, -0.3, -0.5, -0.7, -0.9, -1.1, -1.3, -1.5, -1.8, -2.0],
    [0.8, 0.7, 0.6, 0.5, 0.4, 0.3, 0.2, 0.1, 0.0, -0.2, -0.3, -0.5, -0.6, -0.8, -0.9, -1.0, -1.1, -1.2],
    [-1.2, -1.0, -0.9, -0.7, -0.5, -0.4, -0.2, 0.0, 0.1, 0.4, 0.6, 0.9, 1.1, 1.4, 1.6, 1.8, 2.0, 2.1],
    [3.2, 2.9, 2.6, 2.2, 1.8, 1.4, 1.0, 0.6, 0.2, -0.2, -0.5, -0.8, -1.1, -1.3, -1.5, -1.7, -1.9, -2.0],
    [0.0, 0.2, 0.1, 0.3, 0.2, 0.3, 0.2, 0.3, 0.2, -0.1, -0.3, -0.5, -0.7, -0.9, -1.0, -1.2, -1.3, -1.5],
    [-1.6, -1.4, -1.3, -1.1, -0.9, -0.7, -0.5, -0.3, -0.1, 0.1, 0.3, 0.5, 0.6, 0.8, 0.9, 1.1, 1.2, 1.3],
    [0.6, 0.8, 0.5, 0.7, 0.4, 0.5, 0.3, 0.3, 0.1, 0.3, 0.6, 0.9, 1.2, 1.5, 1.8, 2.1, 2.3, 2.6],
    [-2.9, -2.6, -2.3, -1.9, -1.5, -1.1, -0.8, -0.4, -0.1, 0.2, 0.4, 0.6, 0.8, 1.0, 1.2, 1.3, 1.5, 1.6],
    [2.2, 2.0, 1.8, 1.5, 1.2, 0.9, 0.7, 0.4, 0.1, -0.2, -0.4, -0.6, -0.8, -1.0, -1.1, -1.3, -1.4, -1.5],
]

x_ticks = [-20, -10, 0, 10, 20]
y_ticks = [-10, -5, 0, 5, 10]
hours = list(range(1, 12))

# old matlab colour order b g r c m y k
line_colors = ['#0000ff', '#008000', '#ff0000', '#00bfbf', '#bf00bf', '#bfbf00', '#404040']
blue = '#0000ff'


def style_axes(ax, yticks, ylabel):
    ax.set_xlim(0.52, 11.0)
    ax.set_ylim(yticks[0], yticks[-1])
    ax.set_xticks(hours)
    ax.set_yticks(yticks)
    for y in yticks[1:-1]:
        ax.axhline(y, color='#9090ff', lw=0.9, zorder=0)
    for x in hours[:-1]:
        ax.axvline(x, color='#777777', lw=0.9, zorder=0)
    ax.spines['left'].set_color(blue)
    ax.spines['right'].set_color(blue)
    ax.spines['left'].set_linewidth(1.6)
    ax.spines['right'].set_linewidth(1.6)
    ax.spines['top'].set_linewidth(1.2)
    ax.spines['bottom'].set_linewidth(1.2)
    ax.tick_params(axis='x', direction='in', top=True, length=3, width=0.8,
                   colors='black', labelsize=10, pad=4)
    ax.tick_params(axis='y', direction='in', right=True, length=3, width=0.8,
                   colors=blue, labelsize=10, pad=4)
    ax.set_ylabel(ylabel, color=blue, fontsize=10.5, fontweight='bold')
    ax.yaxis.set_label_coords(-0.082, 0.5)


fig = plt.figure(figsize=(6.69, 4.25), dpi=100)
fig.patches.append(Rectangle((16 / 669, 0), 1 - 16 / 669, 1 - 7 / 425,
                             transform=fig.transFigure, color='#cccccc', zorder=-2))
fig.patches.append(Rectangle((0, 1 - 80 / 425), 16 / 669, 8 / 425,
                             transform=fig.transFigure, color='black', zorder=-1))

ax1 = fig.add_axes([103 / 669, 1 - 194 / 425, 519 / 669, 170 / 425])
ax2 = fig.add_axes([103 / 669, 1 - 392 / 425, 519 / 669, 170 / 425])

for i, vals in enumerate(x_run1):
    ax1.plot(t_x1, vals, color=line_colors[i % 7], lw=1.0)
for i, vals in enumerate(x_run2):
    ax1.plot(t_x2, vals, color=line_colors[i % 7], lw=1.0)
for i, vals in enumerate(y_run1):
    ax2.plot(t_y1, vals, color=line_colors[i % 7], lw=1.0)
for i, vals in enumerate(y_run2):
    ax2.plot(t_y2, vals, color=line_colors[i % 7], lw=1.0)

style_axes(ax1, x_ticks, 'X [µm]')
style_axes(ax2, y_ticks, 'Y [µm]')

ax2.set_xlabel('Time since April 26, 2009 [Hours]', fontsize=10.5, fontweight='bold')
ax2.xaxis.set_label_coords(0.497, -0.12)

fig.savefig('out.png', dpi=100)
